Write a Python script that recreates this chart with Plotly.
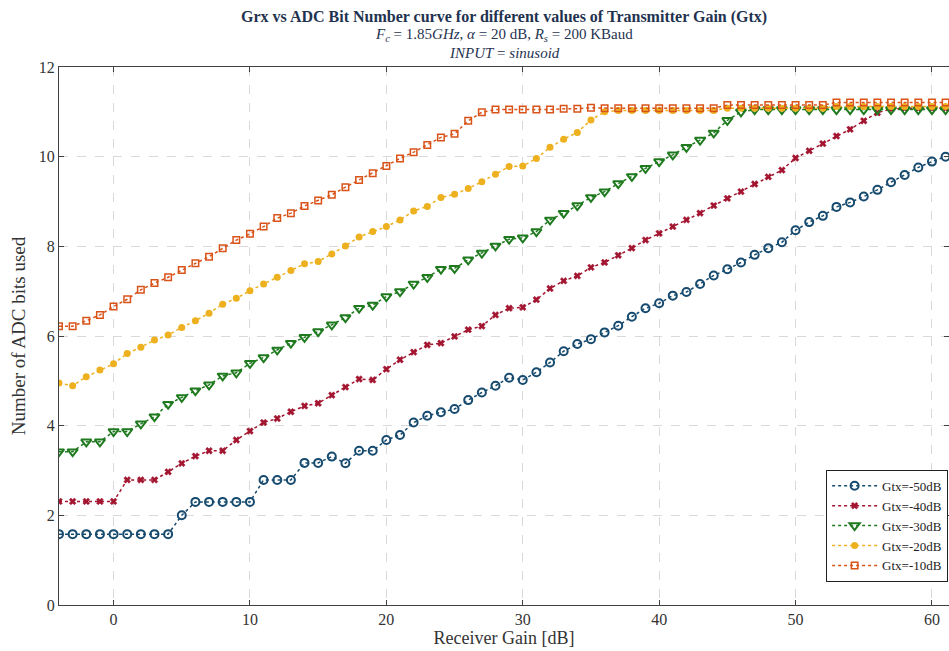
import plotly.graph_objects as go

# Receiver gain grid [dB]
rx_gain = list(range(-4, 62))

gtx_m50 = [1.58, 1.58, 1.58, 1.58, 1.58, 1.58, 1.58, 1.58, 1.58, 2.0,
           2.3, 2.3, 2.3, 2.3, 2.3, 2.79, 2.79, 2.79,
           3.17, 3.17, 3.31, 3.16, 3.44, 3.44, 3.68, 3.79, 4.07, 4.22,
           4.30, 4.37, 4.57, 4.74, 4.89, 5.07, 5.02, 5.19, 5.41, 5.66,
           5.82, 5.93, 6.08, 6.23, 6.43, 6.62, 6.73, 6.90, 6.98, 7.16,
           7.35, 7.49, 7.64, 7.81, 7.96, 8.09, 8.36, 8.54, 8.68, 8.88,
           8.98, 9.11, 9.26, 9.43, 9.59, 9.76, 9.89, 10.0]

gtx_m40 = [2.31, 2.31, 2.31, 2.31, 2.31, 2.79, 2.79, 2.79,
           2.97, 3.16, 3.32, 3.44, 3.44, 3.68, 3.88, 4.07, 4.16, 4.31,
           4.44, 4.50, 4.68, 4.86, 5.04, 5.02, 5.26, 5.47, 5.64, 5.80,
           5.84, 5.99, 6.14, 6.22, 6.47, 6.62, 6.64, 6.81, 7.06, 7.23,
           7.34, 7.53, 7.64, 7.80, 7.96, 8.14, 8.29, 8.44, 8.59, 8.74,
           8.91, 9.07, 9.22, 9.39, 9.55, 9.70, 9.97, 10.13, 10.29, 10.46,
           10.61, 10.80, 10.98, 11.06, 11.08, 11.08, 11.08, 11.08]

gtx_m30 = [3.42, 3.42, 3.64, 3.64, 3.87, 3.87, 4.04, 4.20, 4.48, 4.63,
           4.78, 4.91, 5.11, 5.18, 5.39, 5.52, 5.69, 5.84, 5.97, 6.10,
           6.25, 6.41, 6.62, 6.69, 6.88, 6.99, 7.16, 7.31, 7.49, 7.51,
           7.70, 7.85, 8.01, 8.16, 8.19, 8.33, 8.59, 8.74, 8.91, 9.09,
           9.22, 9.40, 9.56, 9.74, 9.89, 10.04, 10.21, 10.37, 10.53, 10.81,
           11.0, 11.05, 11.05, 11.05, 11.05, 11.05, 11.05, 11.05, 11.05, 11.05,
           11.05, 11.05, 11.05, 11.05, 11.05, 11.05]

gtx_m20 = [4.95, 4.89, 5.09, 5.24, 5.38, 5.61, 5.75, 5.91, 6.02, 6.19,
           6.34, 6.51, 6.71, 6.84, 7.01, 7.16, 7.31, 7.46, 7.61, 7.66,
           7.83, 8.01, 8.21, 8.33, 8.44, 8.59, 8.79, 8.89, 9.09, 9.16,
           9.29, 9.44, 9.61, 9.78, 9.79, 9.96, 10.21, 10.39, 10.54, 10.82,
           11.0, 11.03, 11.03, 11.03, 11.03, 11.03, 11.03, 11.03, 11.03, 11.08,
           11.08, 11.08, 11.08, 11.08, 11.08, 11.08, 11.08, 11.12, 11.12, 11.12,
           11.12, 11.12, 11.12, 11.12, 11.12, 11.12]

gtx_m10 = [6.22, 6.22, 6.34, 6.47, 6.66, 6.82, 7.03, 7.18, 7.31, 7.47,
           7.62, 7.77, 7.96, 8.14, 8.28, 8.44, 8.63, 8.74, 8.90, 9.02,
           9.15, 9.32, 9.48, 9.63, 9.79, 9.96, 10.10, 10.26, 10.43, 10.51,
           10.80, 10.99, 11.05, 11.05, 11.05, 11.05, 11.05, 11.07, 11.07, 11.09,
           11.08, 11.08, 11.08, 11.08, 11.08, 11.08, 11.08, 11.08, 11.08, 11.15,
           11.15, 11.15, 11.15, 11.15, 11.15, 11.15, 11.15, 11.21, 11.21, 11.21,
           11.21, 11.21, 11.21, 11.21, 11.21, 11.21]

series_names = ["Gtx=-50dB", "Gtx=-40dB", "Gtx=-30dB", "Gtx=-20dB", "Gtx=-10dB"]
x_ticks = [0, 10, 20, 30, 40, 50, 60]
y_ticks = [0, 2, 4, 6, 8, 10, 12]

FONT = "Liberation Serif"

styles = [
    dict(color="#164a6e", symbol="circle-open", size=8, mlw=2.0),
    dict(color="#a2142f", symbol="x", size=6, mlw=0.5),
    dict(color="#1f7a1f", symbol="triangle-down-open", size=9, mlw=2.0),
    dict(color="#edb120", symbol="circle", size=7, mlw=0),
    dict(color="#d95319", symbol="square-open", size=6.5, mlw=1.5),
]

fig = go.Figure()
for name, ys, st in zip(series_names, [gtx_m50, gtx_m40, gtx_m30, gtx_m20, gtx_m10], styles):
    fig.add_trace(go.Scatter(
        x=rx_gain, y=ys, name=name, mode="lines+markers",
        line=dict(color=st["color"], width=1.5, dash="dot"),
        marker=dict(symbol=st["symbol"], size=st["size"], color=st["color"],
                    line=dict(color=st["color"], width=st["mlw"])),
    ))

axis_common = dict(
    showline=True, linecolor="#404040", linewidth=1, mirror="ticks",
    ticks="inside", ticklen=5, tickcolor="#404040",
    showgrid=True, gridcolor="#d9d9d9", griddash="dash", gridwidth=1,
    zeroline=False, tickfont=dict(family=FONT, size=16, color="#333333"),
)

fig.update_layout(
    width=949, height=651,
    margin=dict(l=59, r=0, t=67, b=46),
    paper_bgcolor="white", plot_bgcolor="white",
    font=dict(family=FONT, color="#333333"),
    xaxis=dict(range=[-4, 61.25], tickvals=x_ticks, **axis_common,
               title=dict(text="Receiver Gain [dB]", font=dict(family=FONT, size=18, color="#333333"), standoff=2)),
    yaxis=dict(range=[0, 12], tickvals=y_ticks, **axis_common,
               title=dict(text="Number of ADC bits used", font=dict(family=FONT, size=19, color="#333333"), standoff=8)),
    legend=dict(x=0.999, y=0.043, xanchor="right", yanchor="bottom",
                bgcolor="white", bordercolor="#222222", borderwidth=1,
                font=dict(family=FONT, size=13, color="#222222"),
                tracegroupgap=0, itemwidth=45),
    showlegend=True,
)

title_color = "#1f3350"
fig.add_annotation(text="<b>Grx vs ADC Bit Number curve for different values of Transmitter Gain (Gtx)</b>",
                   xref="paper", yref="paper", x=0.5, y=1, yshift=50, xanchor="center", yanchor="middle",
                   showarrow=False, font=dict(family=FONT, size=16, color=title_color))
fig.add_annotation(text="<i>F<sub>c</sub></i> = 1.85<i>GHz</i>, <i>α</i> = 20 dB, <i>R<sub>s</sub></i> = 200 KBaud",
                   xref="paper", yref="paper", x=0.5, y=1, yshift=32, xanchor="center", yanchor="middle",
                   showarrow=False, font=dict(family=FONT, size=15, color=title_color))
fig.add_annotation(text="<i>INPUT</i> = <i>sinusoid</i>",
                   xref="paper", yref="paper", x=0.5, y=1, yshift=14, xanchor="center", yanchor="middle",
                   showarrow=False, font=dict(family=FONT, size=15, color=title_color))

fig.write_html("out.html", config={"displayModeBar": False},
               post_script="document.body.style.margin='0';document.body.style.overflow='hidden';")
